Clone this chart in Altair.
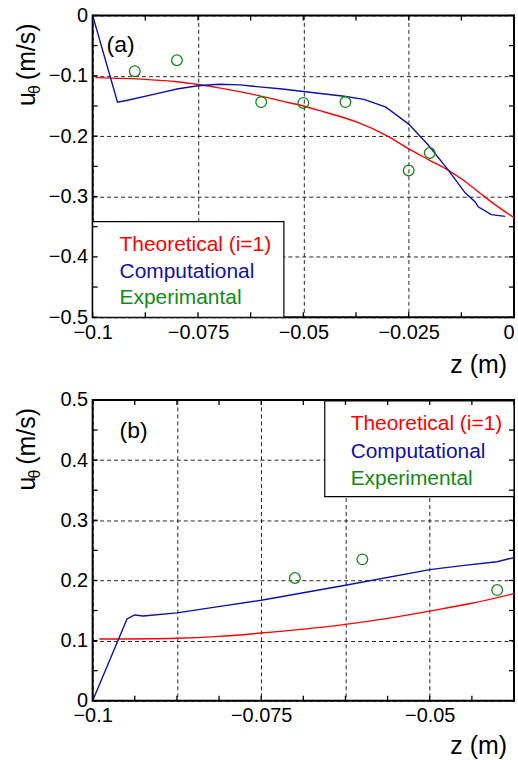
import altair as alt
import pandas as pd

# ---------------- Panel (a) data ----------------
a_theo_z = [-0.0993, -0.0875, -0.08, -0.075, -0.07, -0.0625, -0.055, -0.05, -0.045,
            -0.0375, -0.03, -0.025, -0.02, -0.0155, -0.0125, -0.0085, -0.005, 0.0]
a_theo_u = [-0.103, -0.106, -0.110, -0.1145, -0.120, -0.130, -0.142, -0.150, -0.160,
            -0.176, -0.200, -0.221, -0.240, -0.257, -0.2705, -0.292, -0.311, -0.335]

a_comp_z = [-0.1, -0.0941, -0.092, -0.085, -0.08, -0.075, -0.07, -0.065, -0.0625,
            -0.055, -0.05, -0.0403, -0.0356, -0.0304, -0.025, -0.0203, -0.0155,
            -0.0116, -0.0092, -0.0085, -0.0054, -0.0021]
a_comp_u = [0.0, -0.1436, -0.141, -0.130, -0.122, -0.1165, -0.114, -0.115, -0.117,
            -0.122, -0.126, -0.134, -0.139, -0.152, -0.180, -0.215, -0.257,
            -0.294, -0.309, -0.317, -0.330, -0.333]

a_exp_z = [-0.09, -0.08, -0.06, -0.05, -0.04, -0.025, -0.02]
a_exp_u = [-0.0924, -0.0743, -0.1436, -0.145, -0.1436, -0.257, -0.228]

# ---------------- Panel (b) data ----------------
b_theo_z = [-0.099, -0.0875, -0.08125, -0.075, -0.06875, -0.0625, -0.05625,
            -0.05, -0.04375, -0.0375]
b_theo_u = [0.1026, 0.104, 0.107, 0.1126, 0.119, 0.127, 0.137,
            0.149, 0.162, 0.178]

b_comp_z = [-0.1, -0.0949, -0.0938, -0.0925, -0.0875, -0.0816, -0.075, -0.0625,
            -0.05, -0.0449, -0.04, -0.0375]
b_comp_u = [0.0, 0.136, 0.1426, 0.141, 0.146, 0.156, 0.167, 0.192,
            0.218, 0.225, 0.231, 0.238]

b_exp_z = [-0.07, -0.06, -0.04]
b_exp_u = [0.204, 0.235, 0.184]

# ---------------- Labels / ticks ----------------
names_a = ["Theoretical (i=1)", "Computational", "Experimantal"]
names_b = ["Theoretical (i=1)", "Computational", "Experimental"]
colors = ["#ff0000", "#1010a8", "#138a13"]

a_x_grid = [-0.1, -0.075, -0.05, -0.025, 0.0]
a_x_ticks = [-0.1, -0.0875, -0.075, -0.0625, -0.05, -0.0375, -0.025, -0.0125, 0.0]
a_y_grid = [-0.5, -0.4, -0.3, -0.2, -0.1, 0.0]
a_y_ticks = [-0.5, -0.45, -0.4, -0.35, -0.3, -0.25, -0.2, -0.15, -0.1, -0.05, 0.0]

b_x_grid = [-0.1, -0.0875, -0.075, -0.0625, -0.05]
b_x_ticks = [-0.1, -0.09375, -0.0875, -0.08125, -0.075, -0.06875, -0.0625,
             -0.05625, -0.05, -0.04375, -0.0375]
b_y_grid = [0.0, 0.1, 0.2, 0.3, 0.4, 0.5]
b_y_ticks = [0.0, 0.05, 0.1, 0.15, 0.2, 0.25, 0.3, 0.35, 0.4, 0.45, 0.5]

FONT = "Liberation Sans"
W = 423


def one(text):
    return alt.Chart(pd.DataFrame({"t": [text]}))


def panel(theo, comp, exp, xdom, ydom, xgrid, ygrid, xticks, yticks, H,
          xlabel_expr, last_right, tag, tag_x, tag_y, names, box, text_x, text_ys,
          ztitle_y):
    xs = alt.Scale(domain=xdom, nice=False, zero=False)
    ys = alt.Scale(domain=ydom, nice=False, zero=False)
    xaxis_kw = dict(values=xgrid, format=".3~f", title=None, grid=True,
                    gridDash=[4, 3], gridColor="black", gridWidth=1, gridOpacity=0.85,
                    ticks=False, domain=False, labelFontSize=20, labelColor="black",
                    labelFont=FONT, labelPadding=5, labelFlush=False, labelOverlap=False)
    if xlabel_expr:
        xaxis_kw["labelExpr"] = xlabel_expr
    if last_right:
        xaxis_kw["labelAlign"] = {"condition": {"test": "datum.value > -0.001", "value": "right"},
                                  "value": "center"}
    xaxis = alt.Axis(**xaxis_kw)
    yaxis = alt.Axis(values=ygrid, format=".1~f", title=None, grid=True,
                     gridDash=[4, 3], gridColor="black", gridWidth=1, gridOpacity=0.85,
                     ticks=False, domain=False, labelFontSize=20, labelColor="black",
                     labelFont=FONT, labelPadding=5, labelOverlap=False)

    def X(f):
        return alt.X(f, scale=xs, axis=xaxis)

    def Y(f):
        return alt.Y(f, scale=ys, axis=yaxis)

    theo_df = pd.DataFrame({"z": theo[0], "u": theo[1]})
    comp_df = pd.DataFrame({"z": comp[0], "u": comp[1]})
    exp_df = pd.DataFrame({"z": exp[0], "u": exp[1]})

    red = alt.Chart(theo_df).mark_line(color=colors[0], strokeWidth=1.4,
                                        interpolate="monotone").encode(
        x=X("z:Q"), y=Y("u:Q"))
    blue = alt.Chart(comp_df).mark_line(color=colors[1], strokeWidth=1.4).encode(
        x=X("z:Q"), y=Y("u:Q"))
    pts = alt.Chart(exp_df).mark_point(shape="circle", filled=False, size=115,
                                       strokeWidth=1.3, color=colors[2], opacity=1).encode(
        x=X("z:Q"), y=Y("u:Q"))

    xt = pd.DataFrame({"z": xticks})
    yt = pd.DataFrame({"u": yticks})
    tick_style = dict(color="black", strokeWidth=1.3)
    tb = alt.Chart(xt).mark_rule(**tick_style).encode(
        x=X("z:Q"), y=alt.value(H), y2=alt.value(H - 5))
    tt = alt.Chart(xt).mark_rule(**tick_style).encode(
        x=X("z:Q"), y=alt.value(0), y2=alt.value(5))
    tl = alt.Chart(yt).mark_rule(**tick_style).encode(
        y=Y("u:Q"), x=alt.value(0), x2=alt.value(5))
    tr = alt.Chart(yt).mark_rule(**tick_style).encode(
        y=Y("u:Q"), x=alt.value(W), x2=alt.value(W - 5))

    legend_box = one("box").mark_rect(fill="white", stroke="black", strokeWidth=1.2).encode(
        x=alt.value(box[0]), x2=alt.value(box[1]), y=alt.value(box[2]), y2=alt.value(box[3]))
    legend_texts = [
        one(n).mark_text(align="left", baseline="alphabetic", fontSize=21, font=FONT,
                         color=c).encode(x=alt.value(text_x), y=alt.value(ty), text="t:N")
        for n, c, ty in zip(names, colors, text_ys)
    ]

    tag_text = one(tag).mark_text(align="left", baseline="alphabetic", fontSize=23,
                                  font=FONT, color="black").encode(
        x=alt.value(tag_x), y=alt.value(tag_y), text="t:N")

    # y-axis title: u with subscript theta, rotated
    yt_u = one("u").mark_text(angle=270, align="left", baseline="alphabetic", fontSize=25,
                              font=FONT, color="black").encode(
        x=alt.value(-58), y=alt.value(91), text="t:N")
    yt_th = one("θ").mark_text(angle=270, align="left", baseline="alphabetic", fontSize=16,
                               font=FONT, color="black").encode(
        x=alt.value(-53), y=alt.value(79), text="t:N")
    yt_ms = one("(m/s)").mark_text(angle=270, align="left", baseline="alphabetic",
                                   fontSize=25, font=FONT, color="black").encode(
        x=alt.value(-58), y=alt.value(65), text="t:N")

    zt = one("z (m)").mark_text(align="right", baseline="alphabetic", fontSize=25,
                                font=FONT, color="black").encode(
        x=alt.value(W - 7), y=alt.value(ztitle_y), text="t:N")

    return alt.layer(red, blue, pts, legend_box, *legend_texts, tb, tt, tl, tr,
                     tag_text, yt_u, yt_th, yt_ms, zt).properties(width=W, height=H)


HA, HB = 303, 302

pa = panel((a_theo_z, a_theo_u), (a_comp_z, a_comp_u), (a_exp_z, a_exp_u),
           [-0.1, 0.0], [-0.5, 0.0], a_x_grid, a_y_grid, a_x_ticks, a_y_ticks, HA,
           None, True, "(a)", 14, 37, names_a, (0, 192, 207, HA), 27, [237, 264, 290], HA + 56)

pb = panel((b_theo_z, b_theo_u), (b_comp_z, b_comp_u), (b_exp_z, b_exp_u),
           [-0.1, -0.0375], [0.0, 0.5], b_x_grid, b_y_grid, b_x_ticks, b_y_ticks, HB,
           "abs(round(datum.value*10000) % 250) == 0 ? datum.label : ''", False,
           "(b)", 27, 38, names_b, (233, W, 1, 97), 259, [30, 58, 85], HB + 53)

chart = alt.vconcat(pa, pb, spacing=10).properties(
    padding={"left": 14, "top": 3, "right": 0, "bottom": 0}
).configure(font=FONT).configure_view(stroke="black", strokeWidth=2)

chart.save("out.html", embed_options={"renderer": "svg", "actions": False})
